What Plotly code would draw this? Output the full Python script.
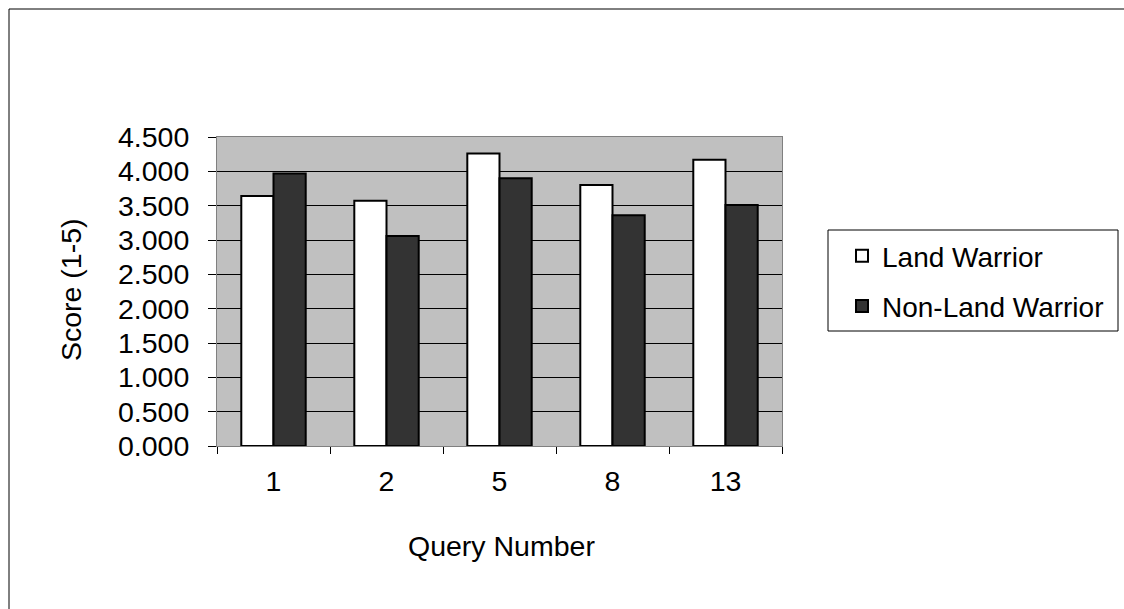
import plotly.graph_objects as go

categories = ["1", "2", "5", "8", "13"]
land_warrior = [3.64, 3.57, 4.26, 3.80, 4.17]
non_land_warrior = [3.97, 3.06, 3.90, 3.36, 3.51]
y_ticks = [0.0, 0.5, 1.0, 1.5, 2.0, 2.5, 3.0, 3.5, 4.0, 4.5]
y_tick_labels = ["%.3f" % v for v in y_ticks]

W, H = 1124, 609
L, R, T, B = 217, 782, 137, 446

def px_x(p):
    return (p - L) / (R - L)

def px_y(p):
    return (B - p) / (B - T)

FONT = "Liberation Sans, Arial, sans-serif"
FS = 28.5

fig = go.Figure()
fig.add_trace(go.Bar(
    x=categories, y=land_warrior, name="Land Warrior", legendgroup="a",
    marker=dict(color="#ffffff", line=dict(color="#000000", width=2)),
))
fig.add_trace(go.Bar(
    x=categories, y=non_land_warrior, name="Non-Land Warrior", legendgroup="b",
    marker=dict(color="#333333", line=dict(color="#000000", width=2)),
))

fig.update_layout(
    width=W, height=H,
    margin=dict(l=L, r=W - R, t=T, b=H - B, autoexpand=False),
    paper_bgcolor="#ffffff",
    plot_bgcolor="#c0c0c0",
    barmode="group",
    bargap=0.43,
    bargroupgap=0.0,
    font=dict(family=FONT, size=FS, color="#000000"),
    showlegend=True,
    legend=dict(
        x=px_x(842), y=px_y(231), xanchor="left", yanchor="top",
        xref="paper", yref="paper",
        bgcolor="rgba(0,0,0,0)", borderwidth=0,
        font=dict(family=FONT, size=28, color="#000000"),
        itemwidth=30,
        traceorder="grouped",
        tracegroupgap=11,
    ),
    xaxis=dict(
        type="category",
        categoryorder="array", categoryarray=categories,
        showline=True, linecolor="#808080", linewidth=1, mirror=True,
        ticks="outside", tickson="boundaries", ticklen=7,
        tickcolor="#000000", tickwidth=1,
        showgrid=False, zeroline=False,
        ticklabelstandoff=10,
        tickfont=dict(family=FONT, size=FS, color="#000000"),
    ),
    yaxis=dict(
        range=[0, 4.5],
        tickvals=y_ticks, ticktext=y_tick_labels,
        showline=True, linecolor="#808080", linewidth=1, mirror=True,
        ticks="outside", ticklen=8, tickcolor="#000000", tickwidth=1,
        showgrid=True, gridcolor="#000000", gridwidth=1,
        zeroline=False,
        ticklabelstandoff=13,
        tickfont=dict(family=FONT, size=FS, color="#000000"),
    ),
    annotations=[
        dict(text="Score (1-5)", xref="paper", yref="paper",
             x=px_x(71), y=px_y(290), xanchor="center", yanchor="middle",
             textangle=-90, showarrow=False,
             font=dict(family=FONT, size=FS, color="#000000")),
        dict(text="Query Number", xref="paper", yref="paper",
             x=px_x(501), y=px_y(546), xanchor="center", yanchor="middle",
             showarrow=False,
             font=dict(family=FONT, size=FS, color="#000000")),
    ],
    shapes=[
        dict(type="rect", xref="paper", yref="paper",
             x0=px_x(9), x1=px_x(1140), y0=px_y(625), y1=px_y(9),
             line=dict(color="#000000", width=1), fillcolor="rgba(0,0,0,0)",
             layer="below"),
        dict(type="rect", xref="paper", yref="paper",
             x0=px_x(828), x1=px_x(1118), y0=px_y(331), y1=px_y(230),
             line=dict(color="#000000", width=1), fillcolor="#ffffff",
             layer="below"),
    ],
)

fig.write_html(
    "out.html",
    config={"displayModeBar": False},
    post_script="document.body.style.margin='0';document.body.style.overflow='hidden';",
)
